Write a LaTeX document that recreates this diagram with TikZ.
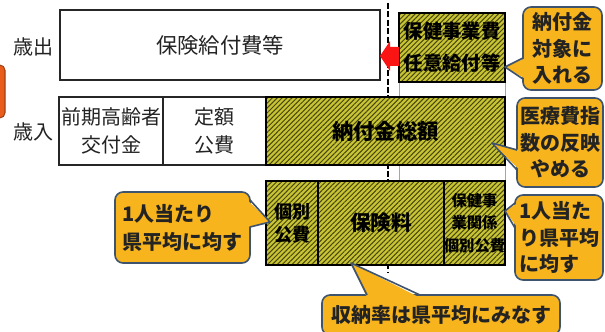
\documentclass[tikz,border=0pt]{standalone}
\usepackage{fontspec}
\setmainfont{Noto Sans CJK JP}
\usetikzlibrary{patterns.meta}
\definecolor{hatchbg}{RGB}{200,196,52}
\definecolor{hatchln}{RGB}{70,70,15}
\definecolor{callfill}{RGB}{247,180,28}
\definecolor{calldraw}{RGB}{62,84,110}
\definecolor{arrowred}{RGB}{250,20,20}
\definecolor{sideorange}{RGB}{232,92,28}
\definecolor{txt}{RGB}{35,35,35}
\begin{document}
\begin{tikzpicture}[x=0.75pt,y=-0.75pt,
  sz/.style 2 args={minimum width=#1*0.75pt,minimum height=#2*0.75pt},
  wbox/.style={draw=black!85,line width=1.5pt,fill=white,inner sep=0pt,align=center,text=txt},
  hbox/.style={draw=black,line width=1.5pt,inner sep=0pt,align=center,text=black,
     preaction={fill=hatchbg},
     pattern={Lines[angle=45,distance=2.6pt,line width=0.75pt]},pattern color=hatchln},
  call/.style={draw=calldraw,line width=1.2pt,fill=callfill,rounded corners=6pt,
     inner sep=0pt,align=center,text=txt,font={\bfseries\fontsize{15}{20}\selectfont}},
  ptrfill/.style={fill=callfill},
  ptrline/.style={draw=calldraw,line width=1.2pt,line join=round},
  lab/.style={text=txt,inner sep=0pt,font={\fontsize{15}{20}\selectfont}},
  guide/.style={draw=gray!70,line width=0.5pt},
  axis/.style={draw=black,line width=0.9pt,dash pattern=on 4.5pt off 1.8pt}
]
\path[use as bounding box,fill=white] (0,0) rectangle (605,331);
\begin{scope}
\clip (0,0) rectangle (605,331);

% cut-off element at left edge
\draw[fill=sideorange,draw=sideorange!70!black,line width=0.8pt,rounded corners=4pt] (-20,65) rectangle (5,118);

% row labels
\node[lab] (saishutsu) at (33,47) {歳出};
\node[lab] (sainyu) at (33,132) {歳入};

% guide lines
\coordinate (gA1) at (399,82); \coordinate (gA2) at (399,181);
\coordinate (gB1) at (505,82); \coordinate (gB2) at (505,181);
\draw[guide] (gA1) -- (gA2);
\draw[guide] (gB1) -- (gB2);
\coordinate (ax1) at (388,3); \coordinate (ax2) at (388,273);
\draw[axis] (ax1) -- (ax2);

% expenditure row
\node[wbox,sz={320}{70},font={\fontsize{16}{20}\selectfont}] (kyufu) at (220,45) {保険給付費等};
\node[hbox,sz={106}{69},font={\bfseries\fontsize{14.5}{24}\selectfont}] (hjigyo) at (452,47.5) {保健事業費\\任意給付等};

% revenue row
\node[wbox,sz={104}{68},font={\fontsize{15}{21}\selectfont}] (zenki) at (111,131) {前期高齢者\\交付金};
\node[wbox,sz={103}{68},font={\fontsize{15}{21}\selectfont}] (teigaku) at (214.5,131) {定額\\公費};
\node[hbox,sz={239}{68},font={\bfseries\fontsize{16}{20}\selectfont}] (nofu) at (385.5,131) {納付金総額};

% breakdown row
\node[hbox,sz={52}{84},font={\bfseries\fontsize{13.5}{17}\selectfont}] (kobetsu) at (292,223) {個別\\公費};
\node[hbox,sz={126}{84},font={\bfseries\fontsize{15.5}{20}\selectfont}] (hokenryo) at (381,223) {保険料};
\node[hbox,sz={61}{84},font={\bfseries\fontsize{11.5}{17}\selectfont}] (hkankei) at (474.5,223) {保健事\\業関係\\個別公費};

% red arrow
\fill[arrowred] (380,56) -- (390,41) -- (390,47) -- (399,47) -- (399,66) -- (390,66) -- (390,71) -- cycle;

% callout 1
\node[call,sz={79}{83}] (c1) at (562.5,48.5) {納付金\\対象に\\入れる};
\coordinate (t1) at (505,67);
\coordinate (b1a) at (523,58); \coordinate (b1b) at (523,79);
\fill[ptrfill] ([xshift=2pt]b1a) -- (t1) -- ([xshift=2pt]b1b) -- cycle;
\draw[ptrline] (b1a) -- (t1) -- (b1b);

% callout 2
\node[call,sz={86}{89}] (c2) at (560,142.5) {医療費指\\数の反映\\やめる};
\coordinate (t2) at (492,143);
\coordinate (b2a) at (517,150); \coordinate (b2b) at (517,170);
\fill[ptrfill] ([xshift=2pt]b2a) -- (t2) -- ([xshift=2pt]b2b) -- cycle;
\draw[ptrline] (b2a) -- (t2) -- (b2b);

% callout 3
\node[call,sz={88}{85},align=left] (c3) at (559,237.5) {1人当た\\り県平均\\に均す};
\coordinate (t3) at (505,211);
\coordinate (b3a) at (515,203); \coordinate (b3b) at (515,228);
\fill[ptrfill] ([xshift=2pt]b3a) -- (t3) -- ([xshift=2pt]b3b) -- cycle;
\draw[ptrline] (b3a) -- (t3) -- (b3b);

% callout 4
\node[call,sz={135}{71},align=left,font={\bfseries\fontsize{15}{21}\selectfont}] (c4) at (182.5,227.5) {1人当たり\\県平均に均す};
\coordinate (t4) at (270,222);
\coordinate (b4a) at (250,200); \coordinate (b4b) at (250,227);
\fill[ptrfill] ([xshift=-2pt]b4a) -- (t4) -- ([xshift=-2pt]b4b) -- cycle;
\draw[ptrline] (b4a) -- (t4) -- (b4b);

% callout 5
\node[call,sz={238}{40}] (c5) at (441,315) {収納率は県平均にみなす};
\coordinate (t5) at (351,263);
\coordinate (b5a) at (367,295); \coordinate (b5b) at (420,295);
\fill[ptrfill] ([yshift=-2pt]b5a) -- (t5) -- ([yshift=-2pt]b5b) -- cycle;
\draw[ptrline] (b5a) -- (t5) -- (b5b);
\end{scope}
\end{tikzpicture}
\end{document}
